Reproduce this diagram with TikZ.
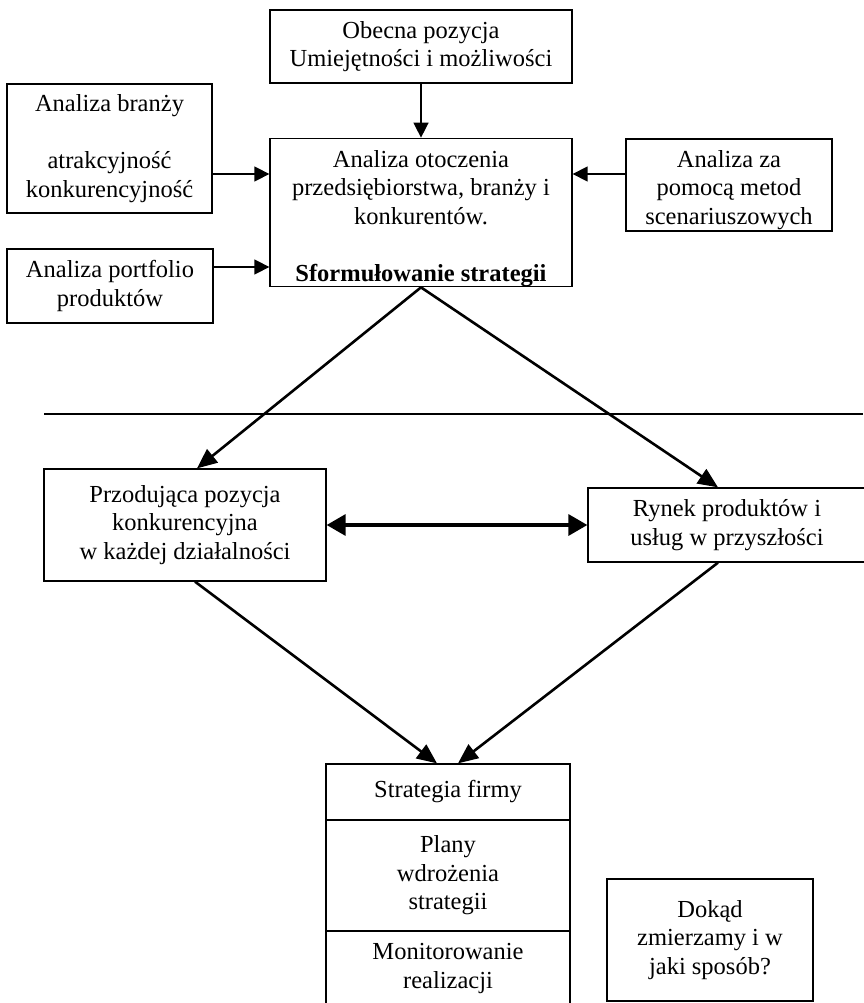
\documentclass[tikz,border=0pt]{standalone}
\usepackage{fontspec}
\setmainfont{Liberation Serif}
\usetikzlibrary{arrows.meta}

\begin{document}
\begin{tikzpicture}[x=1pt,y=-1pt,
  every node/.style={font={\fontsize{24.5}{28.5}\selectfont}},
  box/.style={draw, line width=1.3pt, inner sep=0pt, align=center},
  thinarr/.style={line width=1.4pt, -{Triangle[length=15pt,width=15pt]}},
  diagarr/.style={line width=2.6pt, -{Triangle[length=20pt,width=17pt]}},
  bothways/.style={line width=3.4pt, {Triangle[length=19pt,width=21pt]}-{Triangle[length=19pt,width=21pt]}}]

\useasboundingbox (0,0) rectangle (863,1003);

% upper part: analysis and formulation
\node[box, minimum width=302pt, minimum height=73pt] (obecna) at (421,46.5)
  {Obecna pozycja\\Umiejętności i możliwości};
\node[box, minimum width=205pt, minimum height=129pt] (branza) at (109.5,148.5)
  {Analiza branży\\[28.5pt]atrakcyjność\\konkurencyjność};
\node[box, minimum width=302pt, minimum height=147pt] (otoczenie) at (421,212.5)
  {\rule{0pt}{29pt}Analiza otoczenia\\przedsiębiorstwa, branży i\\konkurentów.\\[28.5pt]\textbf{Sformułowanie strategii}};
\node[box, minimum width=206pt, minimum height=92pt] (scenariusze) at (729,185)
  {\rule{0pt}{27pt}Analiza za\\pomocą metod\\scenariuszowych};
\node[box, minimum width=206pt, minimum height=74pt] (portfolio) at (110,286)
  {Analiza portfolio\\produktów};

% separating line
\coordinate (sepL) at (44,414);
\coordinate (sepR) at (863,414);
\draw[line width=1.3pt] (sepL) -- (sepR);

% lower part: positions and strategy
\node[box, minimum width=282pt, minimum height=112pt] (pozycja) at (185,525)
  {Przodująca pozycja\\konkurencyjna\\w każdej działalności};
\node[box, minimum width=278pt, minimum height=74pt] (rynek) at (727,525)
  {Rynek produktów i\\usług w przyszłości};

\node[box, minimum width=244pt, minimum height=56pt] (strategia) at (448,792)
  {Strategia firmy};
\node[box, minimum width=244pt, minimum height=111pt] (plany) at (448,875.5)
  {Plany\\wdrożenia\\strategii};
\node[box, minimum width=244pt, minimum height=75pt] (monitoring) at (448,968.5)
  {Monitorowanie\\realizacji};

\node[box, minimum width=206pt, minimum height=122pt] (dokad) at (710,940)
  {Dokąd\\zmierzamy i w\\jaki sposób?};

% connectors
\draw[thinarr] (obecna.south) -- (otoczenie.north);
\draw[thinarr] (branza.east |- 0,174) -- (otoczenie.west |- 0,174);
\draw[thinarr] (scenariusze.west |- 0,174) -- (otoczenie.east |- 0,174);
\draw[thinarr] (portfolio.east |- 0,267) -- (otoczenie.west |- 0,267);

\draw[diagarr] (otoczenie.south) -- (197,0 |- pozycja.north);
\draw[diagarr] (otoczenie.south) -- (718,0 |- rynek.north);

\draw[bothways] (pozycja.east) -- (rynek.west);

\draw[diagarr] (195,0 |- pozycja.south) -- (437,0 |- strategia.north);
\draw[diagarr] (718,0 |- rynek.south) -- (458,0 |- strategia.north);

\end{tikzpicture}
\end{document}
